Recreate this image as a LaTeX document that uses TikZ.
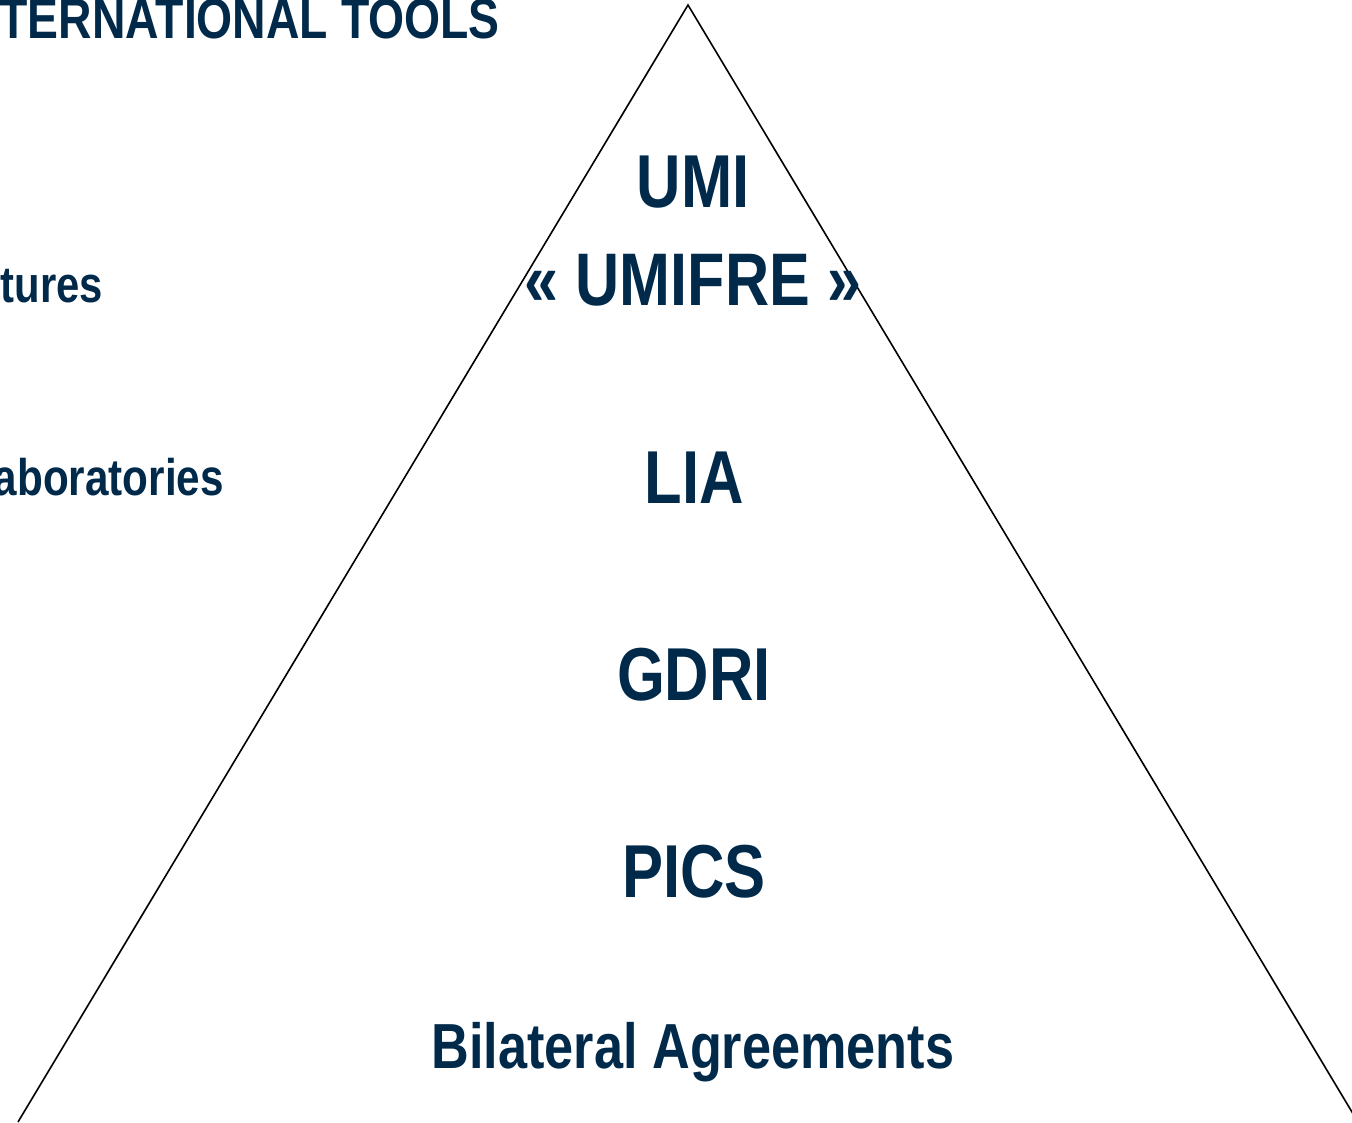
\documentclass[tikz,border=0pt]{standalone}
\usepackage{fontspec}
\setmainfont{Liberation Sans}[FakeStretch=0.82]
\definecolor{navy}{RGB}{0,41,74}
\tikzset{
  lbl/.style={text=navy, font=\bfseries, inner sep=0pt, anchor=base},
  side/.style={text=navy, font=\bfseries, inner sep=0pt, anchor=base east},
  tri/.style={draw=black, line width=1.6pt, line join=miter}
}
\begin{document}
\begin{tikzpicture}[x=1pt,y=-1pt]
\useasboundingbox (0,0) rectangle (1352,1122);
\clip (0,0) rectangle (1352,1122);
\draw[tri] (18,1122) -- (688,5) -- (1358,1122);
\node[side, font=\bfseries\fontsize{56.5}{60}\selectfont] (title) at (500,38) {TERNATIONAL TOOLS};
\node[side, font=\bfseries\fontsize{51}{58}\selectfont] (s1) at (103,302) {tures};
\node[side, font=\bfseries\fontsize{51.5}{58}\selectfont] (s2) at (224,495) {aboratories};
\node[lbl, font=\bfseries\fontsize{75}{80}\selectfont] (umi) at (693,207) {UMI};
\node[lbl, font=\bfseries\fontsize{74.5}{80}\selectfont] (umifre) at (693,305) {« UMIFRE »};
\node[lbl, font=\bfseries\fontsize{75}{80}\selectfont] (lia) at (694,503) {LIA};
\node[lbl, font=\bfseries\fontsize{75}{80}\selectfont] (gdri) at (694,700) {GDRI};
\node[lbl, font=\bfseries\fontsize{75}{80}\selectfont] (pics) at (694,897) {PICS};
\node[lbl, font=\bfseries\fontsize{63.7}{70}\selectfont] (bil) at (693,1068) {Bilateral Agreements};
\end{tikzpicture}
\end{document}
